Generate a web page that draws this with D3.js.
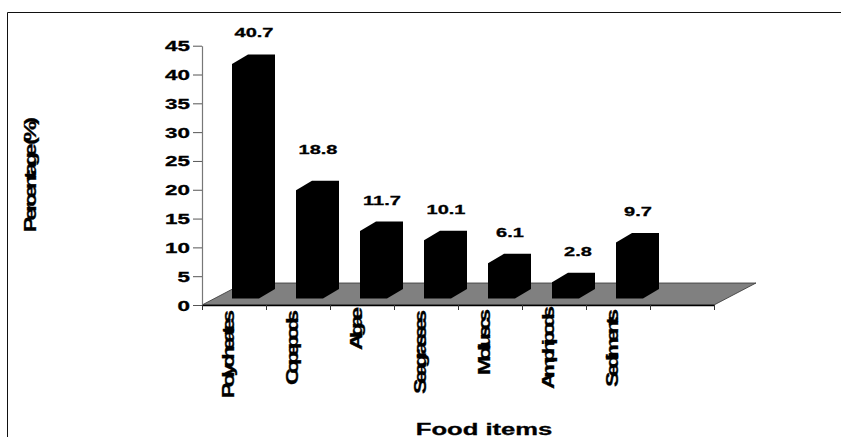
<!DOCTYPE html>
<html>
<head>
<meta charset="utf-8">
<script src="https://cdn.jsdelivr.net/npm/d3@7/dist/d3.min.js"></script>
<style>
  html, body { margin: 0; padding: 0; background: #fff; }
  svg { display: block; }
  text { font-family: "Liberation Sans", Arial, sans-serif; font-weight: 700; fill: #000; stroke: #000; stroke-width: 0.3; }
</style>
</head>
<body>
<svg id="chart" width="841" height="437"></svg>
<script>
// Diet composition by food item, drawn as a pseudo-3D column chart.
const categories = ["Polycheates", "Copepods", "Algae", "Seagrasses", "Molluscs", "Amphipods", "Sediments"];
const percentages = [40.7, 18.8, 11.7, 10.1, 6.1, 2.8, 9.7];
const yTicks = [0, 5, 10, 15, 20, 25, 30, 35, 40, 45];
const slotCount = 8;

const svg = d3.select("#chart");
const plot = { left: 202, right: 714, top: 45.7, bottom: 305 };
const floorDepth = { dx: 42, dy: -22 };
const barDepth = { dx: 16, dy: -9.5 };
const barInset = { x: 30, y: -6.5 };
const barWidth = 27;
const wide = 1.6;
const catWide = 1.4;

const y = d3.scaleLinear().domain([0, 45]).range([plot.bottom, plot.top]);
const slots = d3.scaleLinear().domain([0, slotCount]).range([plot.left, plot.right]);
const line = d3.line();

// Page frame: top and left rules only
svg.append("path")
  .attr("d", "M7.5,437V12.5H841")
  .attr("fill", "none").attr("stroke", "#111").attr("stroke-width", 1);

// Floor of the 3D plot area
svg.append("path")
  .attr("d", line([
    [plot.left, plot.bottom],
    [plot.right, plot.bottom],
    [plot.right + floorDepth.dx, plot.bottom + floorDepth.dy],
    [plot.left + floorDepth.dx, plot.bottom + floorDepth.dy]
  ]) + "Z")
  .attr("fill", "#808080").attr("stroke", "#333").attr("stroke-width", 0.8);

// Columns: front face, top and side merged in a single black outline
svg.append("g").selectAll("path")
  .data(percentages)
  .join("path")
  .attr("fill", "#000")
  .attr("d", (v, i) => {
    const x0 = slots(i) + barInset.x;
    const x1 = x0 + barWidth;
    const base = y(0) + barInset.y;
    const top = y(v) + barInset.y;
    return line([
      [x0, base], [x1, base],
      [x1 + barDepth.dx, base + barDepth.dy],
      [x1 + barDepth.dx, top + barDepth.dy],
      [x0 + barDepth.dx, top + barDepth.dy],
      [x0, top]
    ]) + "Z";
  });

// Value labels above each column
const labelNudge = { "18.8": { x: 0, y: -10 }, "2.8": { x: 4, y: 0 } };
svg.append("g").selectAll("text")
  .data(percentages)
  .join("text")
  .attr("text-anchor", "middle")
  .attr("font-size", 12.5)
  .attr("transform", (v, i) => {
    const n = labelNudge[v.toFixed(1)] || { x: 0, y: 0 };
    const px = slots(i) + barInset.x + barWidth / 2 + 8.5 + n.x;
    const py = y(v) + barInset.y + barDepth.dy - 17 + n.y;
    return `translate(${px},${py}) scale(${wide},1)`;
  })
  .text(v => v.toFixed(1));

// Value axis
const yAxis = svg.append("g")
  .attr("transform", `translate(${plot.left},0)`)
  .call(d3.axisLeft(y).tickValues(yTicks).tickSize(9).tickSizeOuter(0));
yAxis.select(".domain").attr("stroke", "#777").attr("stroke-width", 1.2);
yAxis.selectAll(".tick line").attr("stroke", "#555");
yAxis.selectAll(".tick text")
  .attr("x", 0).attr("dy", null)
  .attr("font-size", 14)
  .attr("font-family", null)
  .attr("text-anchor", "end")
  .attr("transform", `translate(-12,5) scale(${wide},1)`);

// Category axis: ticks fall on slot boundaries
const xAxis = svg.append("g")
  .attr("transform", `translate(0,${plot.bottom})`)
  .call(d3.axisBottom(slots).tickValues(d3.range(slotCount + 1)).tickFormat("").tickSize(5).tickSizeOuter(0));
xAxis.select(".domain").attr("stroke", "#000").attr("stroke-width", 1.6);
xAxis.selectAll(".tick line").attr("stroke", "#333");

// Rotated category names, tightly tracked
const catLength = [88, 75, 43, 84, 66, 83, 78];
const catTop = [310, 310, 307, 310, 309, 306, 309];
svg.append("g").selectAll("text")
  .data(categories)
  .join("text")
  .attr("font-size", 16.5)
  .attr("textLength", (d, i) => catLength[i] / catWide)
  .attr("lengthAdjust", "spacing")
  .attr("transform", (d, i) => {
    const px = slots(i) + 31.5;
    const py = catTop[i] + catLength[i];
    return `translate(${px},${py}) rotate(-90) scale(${catWide},1)`;
  })
  .text(d => d);

// Axis titles
svg.append("text")
  .attr("font-size", 16.5)
  .attr("textLength", 115 / catWide)
  .attr("lengthAdjust", "spacing")
  .attr("transform", `translate(36,232) rotate(-90) scale(${catWide},1)`)
  .text("Percentage (%)");

svg.append("text")
  .attr("font-size", 16)
  .attr("text-anchor", "middle")
  .attr("transform", `translate(484,434.5) scale(${wide},1)`)
  .text("Food items");
</script>
</body>
</html>
